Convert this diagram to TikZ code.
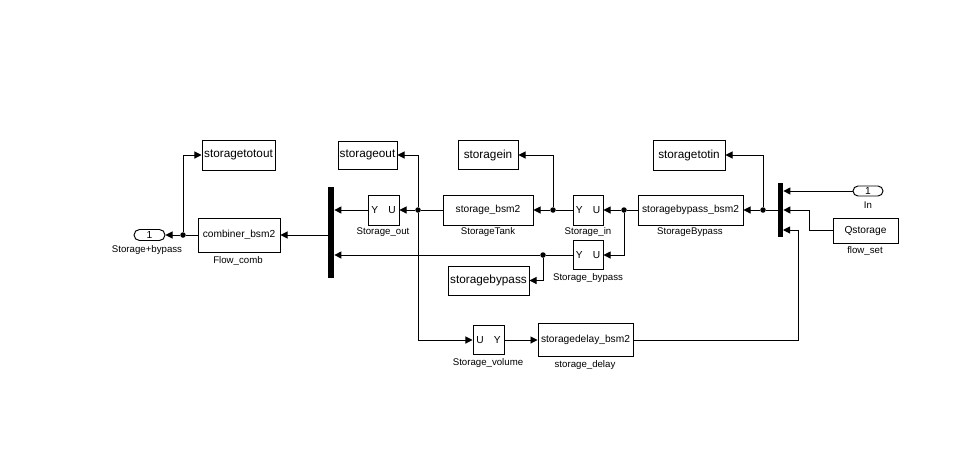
\documentclass[tikz,border=0pt]{standalone}
\usepackage{fontspec}
\setmainfont{Liberation Sans}
\usetikzlibrary{arrows.meta,shapes.misc}

\begin{document}
\begin{tikzpicture}[x=0.02cm, y=-0.02cm,
    blk/.style={draw, line width=0.55pt, inner sep=0pt, font=\fontsize{5.8}{6}\selectfont},
    goto/.style={blk, font=\fontsize{6.7}{7}\selectfont},
    port/.style={draw, line width=0.55pt, rounded rectangle, inner sep=0pt,
        minimum width=0.62cm, minimum height=0.22cm, font=\fontsize{5.8}{6}\selectfont},
    bar/.style={fill=black, inner sep=0pt, minimum width=0.12cm},
    dot/.style={circle, fill=black, inner sep=0pt, minimum size=0.11cm},
    lbl/.style={font=\fontsize{5.5}{6}\selectfont},
    wire/.style={line width=0.55pt},
    arr/.style={wire, -{Triangle[length=4pt, width=4pt]}}]
    \useasboundingbox (0,0) rectangle (967,464);
    % Bloques
    \node[port] (outp) at (149.5,235) {1};
    \node[goto, minimum width=1.46cm, minimum height=0.6cm] (totout) at (238.5,155) {storagetotout};
    \node[blk, minimum width=1.64cm, minimum height=0.68cm] (comb) at (239,235) {combiner\_bsm2};
    \node[bar, minimum height=1.82cm] (muxL) at (331,232.5) {};
    \node[blk, minimum width=0.62cm, minimum height=0.6cm] (sout) at (383.5,210) {Y\quad U};
    \node[goto, minimum width=1.18cm, minimum height=0.56cm] (gout) at (367.5,155) {storageout};
    \node[blk, minimum width=1.8cm, minimum height=0.6cm] (tank) at (488,210) {storage\_bsm2};
    \node[goto, minimum width=1.2cm, minimum height=0.58cm] (gin) at (488,155) {storagein};
    \node[goto, minimum width=1.62cm, minimum height=0.58cm] (gbyp) at (488.5,280.5) {storagebypass};
    \node[blk, minimum width=0.6cm, minimum height=0.6cm] (sin) at (588,210) {Y\quad U};
    \node[blk, minimum width=0.6cm, minimum height=0.58cm] (sbyp) at (588,255) {Y\quad U};
    \node[blk, minimum width=2.1cm, minimum height=0.6cm] (bypass) at (690.5,210) {storagebypass\_bsm2};
    \node[goto, minimum width=1.44cm, minimum height=0.6cm] (totin) at (689,155) {storagetotin};
    \node[bar, minimum width=0.1cm, minimum height=1.08cm] (muxR) at (780.5,210) {};
    \node[port, minimum width=0.6cm, minimum height=0.2cm] (inp) at (868,191) {1};
    \node[blk, minimum width=1.3cm, minimum height=0.5cm] (qset) at (865.5,230.5) {Qstorage};
    \node[blk, minimum width=0.62cm, minimum height=0.58cm] (svol) at (488.5,340) {U\quad Y};
    \node[blk, minimum width=1.9cm, minimum height=0.66cm] (delay) at (585.5,340) {storagedelay\_bsm2};
    % Etiquetas
    \node[lbl] (l1) at (147,250) {Storage+bypass};
    \node[lbl] (l2) at (238,261) {Flow\_comb};
    \node[lbl] (l3) at (383,232) {Storage\_out};
    \node[lbl] (l4) at (488,232) {StorageTank};
    \node[lbl] (l5) at (588,232) {Storage\_in};
    \node[lbl] (l6) at (588,278) {Storage\_bypass};
    \node[lbl] (l7) at (690,232) {StorageBypass};
    \node[lbl] (l8) at (868,205) {In};
    \node[lbl] (l9) at (865,251) {flow\_set};
    \node[lbl] (l10) at (488,363) {Storage\_volume};
    \node[lbl] (l11) at (585,365) {storage\_delay};
    % Ramificaciones
    \foreach \n/\px/\py in {d1/183/235, d2/418/210, d3/553/210, d4/624/210, d5/543/255, d6/763/210}
        \node[dot] (\n) at (\px,\py) {};
    \coordinate (qbend) at (809,230.5);
    \coordinate (dbend) at (798,340);
    \coordinate (mux3) at (783,230);
    % Conexiones
    \draw[wire] (comb.west) -- (d1);
    \draw[arr] (d1) -- (outp.east);
    \draw[arr] (d1) |- (totout.west);
    \draw[arr] (muxL.west |- comb.east) -- (comb.east);
    \draw[arr] (sout.west) -- (sout.west -| muxL.east);
    \draw[wire] (tank.west) -- (d2);
    \draw[arr] (d2) -- (sout.east);
    \draw[arr] (d2) |- (gout.east);
    \draw[arr] (d2) |- (svol.west);
    \draw[wire] (sin.west) -- (d3);
    \draw[arr] (d3) -- (tank.east);
    \draw[arr] (d3) |- (gin.east);
    \draw[wire] (bypass.west) -- (d4);
    \draw[arr] (d4) -- (sin.east);
    \draw[arr] (d4) |- (sbyp.east);
    \draw[wire] (sbyp.west) -- (d5);
    \draw[arr] (d5) -- (d5 -| muxL.east);
    \draw[arr] (d5) |- (gbyp.east);
    \draw[wire] (muxR.west) -- (d6);
    \draw[arr] (d6) -- (bypass.east);
    \draw[arr] (d6) |- (totin.east);
    \draw[arr] (inp.west) -- (inp.west -| muxR.east);
    \draw[arr] (qset.west) -- (qbend) |- (muxR.east);
    \draw[arr] (svol.east) -- (delay.west);
    \draw[arr] (delay.east) -- (dbend) |- (mux3);
\end{tikzpicture}
\end{document}
